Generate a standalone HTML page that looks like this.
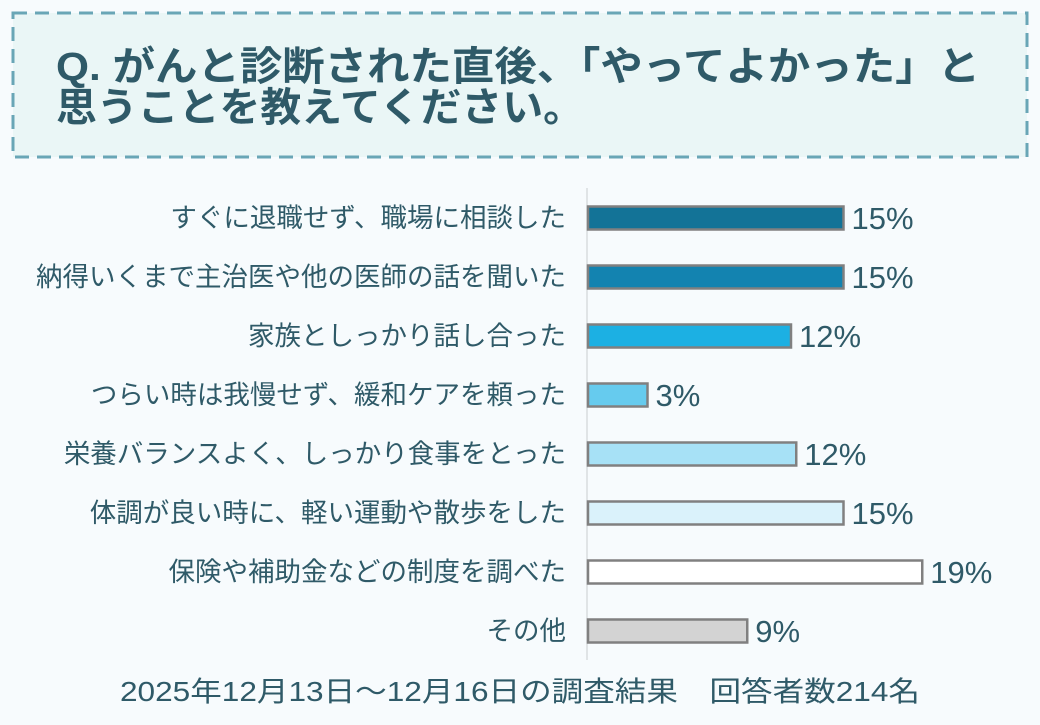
<!DOCTYPE html>
<html><head><meta charset="utf-8"><style>
body{margin:0;width:1040px;height:720px;background:#f7fbfd;overflow:hidden;font-family:"Liberation Sans","Noto Sans CJK JP",sans-serif;}
</style></head><body>
<svg width="1040" height="720">
<rect x="13" y="13" width="1014" height="144" fill="#eaf6f6" stroke="#69a6b6" stroke-width="3" stroke-dasharray="14,8"/>
<text x="56" y="80" font-size="40" font-weight="bold" fill="#2f5a68" textLength="924" lengthAdjust="spacingAndGlyphs" font-family="Liberation Sans, Noto Sans CJK JP, sans-serif">Q. がんと診断された直後、「やってよかった」と</text>
<text x="56" y="121" font-size="40" font-weight="bold" fill="#2f5a68" textLength="528" lengthAdjust="spacingAndGlyphs" font-family="Liberation Sans, Noto Sans CJK JP, sans-serif">思うことを教えてください。</text>
<line x1="587" y1="188" x2="587" y2="660" stroke="#d8dcdf" stroke-width="1.5"/>
<g id="bars"></g>
<text x="120" y="701" font-size="28" fill="#2f5a68" textLength="800" lengthAdjust="spacingAndGlyphs" font-family="Liberation Sans, Noto Sans CJK JP, sans-serif">2025年12月13日～12月16日の調査結果　回答者数214名</text>
</svg>
<script>
const categories=["すぐに退職せず、職場に相談した","納得いくまで主治医や他の医師の話を聞いた","家族としっかり話し合った","つらい時は我慢せず、緩和ケアを頼った","栄養バランスよく、しっかり食事をとった","体調が良い時に、軽い運動や散歩をした","保険や補助金などの制度を調べた","その他"];
const values=[14.6,14.6,11.6,3.4,11.9,14.6,19.1,9.1];
const labels=["15%","15%","12%","3%","12%","15%","19%","9%"];
const colors=["#137397","#1383b0","#1cb0e3","#66cbee","#a7e1f6","#daf2fb","#ffffff","#d3d3d3"];
const x0=588,pxPer=17.5,y0=218,step=59,bh=23;
const xs=v=>x0+v*pxPer, ys=i=>y0+i*step;
const g=document.getElementById('bars'),NS="http://www.w3.org/2000/svg";
categories.forEach((c,i)=>{
 const r=document.createElementNS(NS,'rect');
 r.setAttribute('x',x0);r.setAttribute('y',ys(i)-bh/2);r.setAttribute('width',xs(values[i])-x0);r.setAttribute('height',bh);
 r.setAttribute('fill',colors[i]);r.setAttribute('stroke','#808080');r.setAttribute('stroke-width','2.5');
 
 
 g.appendChild(r);
 const t=document.createElementNS(NS,'text');
 t.setAttribute('x',566);t.setAttribute('y',ys(i)+9);t.setAttribute('text-anchor','end');t.setAttribute('font-size','26.5');t.setAttribute('fill','#2f5a68');
 t.textContent=c;
 
 
 g.appendChild(t);
 const v=document.createElementNS(NS,'text');
 v.setAttribute('x',xs(values[i])+8);v.setAttribute('y',ys(i)+11);v.setAttribute('font-size','31');v.setAttribute('fill','#2f5a68');
 v.textContent=labels[i];
 
 
 g.appendChild(v);
});
</script>
</body></html>
